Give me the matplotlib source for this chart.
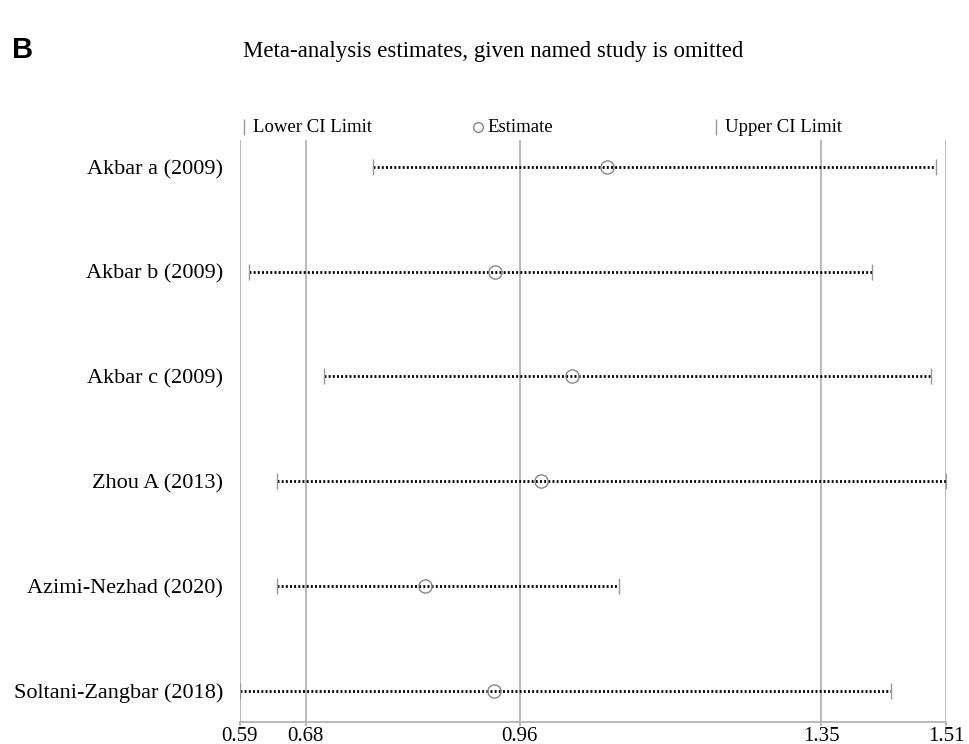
import matplotlib
matplotlib.use("Agg")
import matplotlib.pyplot as plt
from matplotlib.lines import Line2D

# Leave-one-out sensitivity analysis
studies = [
    "Akbar a (2009)",
    "Akbar b (2009)",
    "Akbar c (2009)",
    "Zhou A (2013)",
    "Azimi-Nezhad (2020)",
    "Soltani-Zangbar (2018)",
]
estimate = [1.072, 0.926, 1.026, 0.986, 0.835, 0.925]
lower_ci = [0.767, 0.606, 0.703, 0.642, 0.642, 0.594]
upper_ci = [1.500, 1.417, 1.493, 1.513, 1.087, 1.441]

# axis reference values: min, pooled lower CI, pooled estimate, pooled upper CI, max
ref_values = [0.594, 0.6794, 0.958, 1.3505, 1.513]
ref_labels = ["0.59", "0.68", "0.96", "1.35", "1.51"]

serif = ["Liberation Serif", "DejaVu Serif"]
grey = "#b4b4b4"

W, H = 970, 744
fig = plt.figure(figsize=(W / 100, H / 100), dpi=100)
ax = fig.add_axes([240 / W, 1 - 722 / H, (946 - 240) / W, (722 - 140) / H])

for v in ref_values:
    ax.axvline(v, color=grey, lw=1.3, zorder=1)

rows = list(range(len(studies)))
for i in rows:
    ax.plot([lower_ci[i], upper_ci[i]], [i, i], color="black", lw=2.0,
            linestyle=(0, (0.7, 0.8)), dash_capstyle="butt", zorder=2)
ax.plot(lower_ci, rows, linestyle="none", marker="|", ms=12, mew=1.0,
        color="#999999", zorder=3)
ax.plot(upper_ci, rows, linestyle="none", marker="|", ms=12, mew=1.0,
        color="#999999", zorder=3)
ax.plot(estimate, rows, linestyle="none", marker="o", ms=9.5, mew=1.0,
        mfc="none", mec="#888888", zorder=4)

ax.set_xlim(ref_values[0], ref_values[-1])
ax.set_ylim(5.30, -0.258)
ax.set_xticks(ref_values)
ax.set_xticklabels(ref_labels, family=serif, fontsize=15)
ax.set_yticks(rows)
ax.set_yticklabels(studies, family=serif, fontsize=16)
ax.tick_params(axis="y", length=0, pad=12)
ax.tick_params(axis="x", length=3, width=1.3, color=grey, pad=0.5)

for side in ["top", "right", "left"]:
    ax.spines[side].set_visible(False)
ax.spines["bottom"].set_color(grey)
ax.spines["bottom"].set_linewidth(1.3)

fig.text(12 / W, 1 - 50 / H, "B", family="Liberation Sans", weight="bold",
         fontsize=21, va="center", ha="left")
fig.text(493 / W, 1 - 52 / H, "Meta-analysis estimates, given named study is omitted",
         family=serif, fontsize=16.5, ha="center", va="center")

# legend row
ly = 1 - 127 / H
legend_items = [
    (244, "|", "Lower CI Limit"),
    (478, "o", "Estimate"),
    (716, "|", "Upper CI Limit"),
]
for px, mk, label in legend_items:
    if mk == "o":
        fig.add_artist(Line2D([px / W], [ly], marker="o", ms=7, mfc="none",
                              mec="#888888", mew=1.0, linestyle="none"))
    else:
        fig.add_artist(Line2D([px / W], [ly], marker="|", ms=12, mew=1.0,
                              color="#999999", linestyle="none"))
    fig.text((px + 9) / W, ly, label, family=serif, fontsize=13.5,
             ha="left", va="center")

fig.savefig("out.png", dpi=100)
